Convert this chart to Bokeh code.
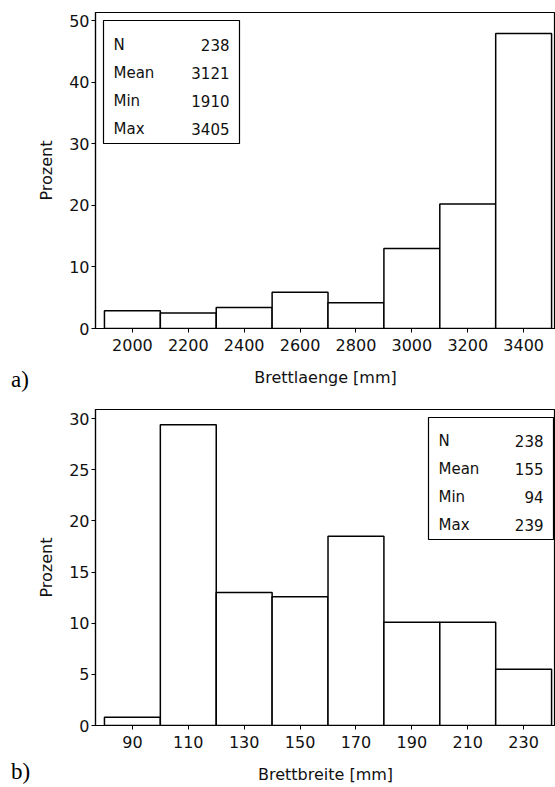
from bokeh.plotting import figure
from bokeh.layouts import column
from bokeh.models import Label, BoxAnnotation, FixedTicker, Range1d, ColumnDataSource, Div
from bokeh.embed import file_html
from bokeh.resources import INLINE

# ---- data (a) Brettlaenge ----
len_edges = [1900, 2100, 2300, 2500, 2700, 2900, 3100, 3300, 3500]
len_pct = [2.9, 2.5, 3.4, 5.9, 4.2, 13.0, 20.2, 47.9]
len_ticks = [2000, 2200, 2400, 2600, 2800, 3000, 3200, 3400]
len_yticks = [0, 10, 20, 30, 40, 50]
len_stats = [("N", "238"), ("Mean", "3121"), ("Min", "1910"), ("Max", "3405")]

# ---- data (b) Brettbreite ----
wid_edges = [80, 100, 120, 140, 160, 180, 200, 220, 240]
wid_pct = [0.8, 29.4, 13.0, 12.6, 18.5, 10.1, 10.1, 5.5]
wid_ticks = [90, 110, 130, 150, 170, 190, 210, 230]
wid_yticks = [0, 5, 10, 15, 20, 25, 30]
wid_stats = [("N", "238"), ("Mean", "155"), ("Min", "94"), ("Max", "239")]

FONT = "DejaVu Sans"
W = 555
FW = 460
FH = 316


def make(edges, pct, xticks, yticks, xr, yr, xlabel, stats, box_px, rows_px,
         lab_x, val_x, top, bottom, xlab_standoff):
    p = figure(width=W, height=top + FH + bottom, frame_width=FW, frame_height=FH,
               x_range=Range1d(*xr), y_range=Range1d(*yr),
               output_backend="svg", toolbar_location=None,
               min_border_left=W - FW, min_border_right=0,
               min_border_top=top, min_border_bottom=bottom)
    p.xgrid.visible = False
    p.ygrid.visible = False
    p.outline_line_color = "black"
    p.outline_line_width = 1.2
    p.background_fill_color = "white"
    src = ColumnDataSource(dict(left=edges[:-1], right=edges[1:], top=pct,
                                bottom=[0] * len(pct)))
    p.quad(left="left", right="right", top="top", bottom="bottom", source=src,
           fill_color="white", line_color="black", line_width=1.5)

    for ax, ticks in ((p.xaxis[0], xticks), (p.yaxis[0], yticks)):
        ax.ticker = FixedTicker(ticks=ticks)
        ax.minor_tick_line_color = None
        ax.major_tick_out = 4
        ax.major_tick_in = 0
        ax.axis_line_color = "black"
        ax.axis_line_width = 1.2
        ax.major_tick_line_color = "black"
        ax.major_label_text_font = FONT
        ax.major_label_text_font_size = "16px"
        ax.major_label_text_color = "#111111"
        ax.axis_label_text_font = FONT
        ax.axis_label_text_font_size = "16px"
        ax.axis_label_text_font_style = "normal"
        ax.axis_label_text_color = "#111111"
    p.xaxis[0].axis_label = xlabel
    p.xaxis[0].major_label_standoff = 6
    p.xaxis[0].axis_label_standoff = xlab_standoff
    p.yaxis[0].axis_label = "Prozent"
    p.yaxis[0].major_label_standoff = 2
    p.yaxis[0].axis_label_standoff = 10

    # pixel (relative to figure) -> data helpers
    x0 = W - FW
    sx = FW / (xr[1] - xr[0])
    sy = FH / (yr[1] - yr[0])

    def dx(px):
        return xr[0] + (px - x0) / sx

    def dy(py):
        return yr[0] + (top + FH - py) / sy

    bl, bt, br, bb = box_px
    p.add_layout(BoxAnnotation(left=dx(bl), right=dx(br), top=dy(bt), bottom=dy(bb),
                               fill_color="white", fill_alpha=1.0,
                               line_color="black", line_width=1.2, line_alpha=1.0))
    for (name, val), ry in zip(stats, rows_px):
        p.add_layout(Label(x=dx(lab_x), y=dy(ry), text=name, text_font=FONT,
                           text_font_size="15px", text_align="left",
                           text_baseline="middle", text_color="#111111"))
        p.add_layout(Label(x=dx(val_x), y=dy(ry), text=val, text_font=FONT,
                           text_font_size="15px", text_align="right",
                           text_baseline="middle", text_color="#111111"))
    return p


def tag(text, shift):
    return Div(text='<span style="display: block; font-family: \'Liberation Serif\', serif; '
                    'font-size: 23px; color: black; line-height: 24px; margin-top: '
                    + str(shift) + 'px;">' + text + '</span>',
               width=40, height=32, margin=(-32, 0, 0, 11),
               styles={"position": "relative", "z-index": "10"})


p1 = make(len_edges, len_pct, len_ticks, len_yticks, (1868, 3514), (0, 51.3),
          "Brettlaenge [mm]", len_stats,
          (103, 20, 239, 143), [44, 72, 100, 128], 113, 229,
          top=12, bottom=70, xlab_standoff=14)
p2 = make(wid_edges, wid_pct, wid_ticks, wid_yticks, (76.8, 241.4), (0, 30.9),
          "Brettbreite [mm]", wid_stats,
          (428, 417 - 398, 553, 539 - 398),
          [440 - 398, 468 - 398, 496 - 398, 524 - 398], 438, 543,
          top=11, bottom=61, xlab_standoff=14)

layout = column(p1, tag("a)", 2), p2, tag("b)", 6), spacing=0)
open("out.html", "w").write(file_html(layout, INLINE))
